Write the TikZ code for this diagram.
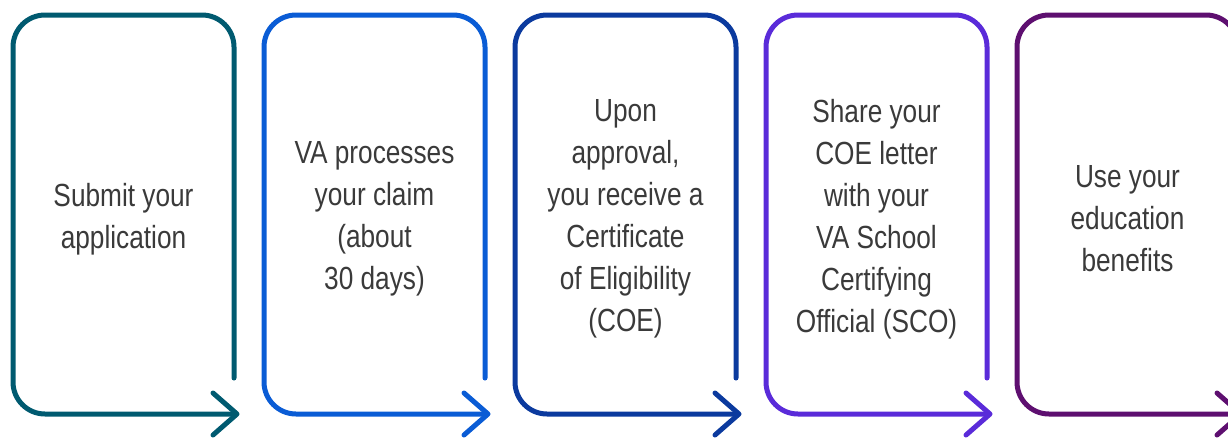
\documentclass[tikz,border=0pt]{standalone}
\usepackage{fontspec}
\setmainfont{Liberation Sans}[FakeStretch=0.82]
\definecolor{cA}{HTML}{005A70}
\definecolor{cB}{HTML}{0A5CD5}
\definecolor{cC}{HTML}{0B3A9E}
\definecolor{cD}{HTML}{5A2BD9}
\definecolor{cE}{HTML}{5E0F70}
\definecolor{txt}{HTML}{3A3A3A}
\begin{document}
\begin{tikzpicture}[x=1pt,y=-1pt,
  boxline/.style={line width=5pt,line cap=round,line join=round,rounded corners=32pt},
  chev/.style={line width=5pt,line cap=round,line join=round},
  label/.style={align=center,text=txt,font=\fontsize{32}{42}\selectfont,inner sep=0pt}]
\useasboundingbox (0,0) rectangle (1228,437);
\foreach \i/\c in {0/cA,1/cB,2/cC,3/cD,4/cE}{
  \pgfmathsetmacro{\ox}{\i*251}
  \draw[boxline,draw=\c] (\ox+234,378) -- (\ox+234,15) -- (\ox+13,15) -- (\ox+13,414) -- (\ox+236,414);
  \draw[chev,draw=\c] (\ox+213,393) -- (\ox+237,414) -- (\ox+213,435);
}
\node[label] (t1) at (123.5,219) {Submit your\\application};
\node[label] (t2) at (374.5,219) {VA processes\\your claim\\(about\\30 days)};
\node[label] (t3) at (625.5,219) {Upon\\approval,\\you receive a\\Certificate\\of Eligibility\\(COE)};
\node[label] (t4) at (876.5,219) {Share your\\COE letter\\with your\\VA School\\Certifying\\Official (SCO)};
\node[label] (t5) at (1127.5,219) {Use your\\education\\benefits};
\end{tikzpicture}
\end{document}
